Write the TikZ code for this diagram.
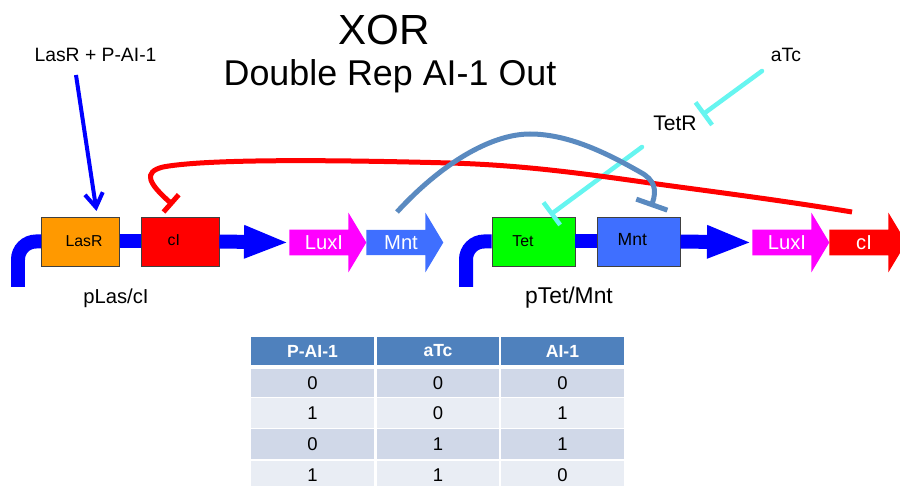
\documentclass[tikz,border=0pt]{standalone}
\usepackage{fontspec}
\setmainfont{Liberation Sans}
\usetikzlibrary{arrows.meta,shapes.arrows}
\definecolor{steel}{HTML}{5A8AC0}
\definecolor{genecyan}{HTML}{66F5F0}
\definecolor{mntblue}{HTML}{3F6FFF}
\definecolor{luxpink}{HTML}{FF00FF}
\definecolor{lasorange}{HTML}{FF9900}
\definecolor{headblue}{HTML}{4F81BD}
\definecolor{rowdark}{HTML}{D0D8E8}
\definecolor{rowlight}{HTML}{E9EDF4}
\tikzset{
    genebox/.style={draw=black!75, line width=0.5pt, minimum width=1.56cm, minimum height=0.98cm, inner sep=0pt},
    boxtext/.style={font=\fontsize{9}{11}\selectfont, inner sep=0pt},
    genearrow/.style={single arrow, anchor=west, draw=none, minimum height=1.54cm, minimum width=1.2cm, inner sep=0pt, single arrow head extend=0.2cm, single arrow tip angle=118, text=white, font=\fontsize{11.5}{13}\selectfont},
    dnaline/.style={blue, line width=0.28cm},
    plaintext/.style={inner sep=0pt, font=\fontsize{11}{13}\selectfont},
    cell/.style={minimum width=2.46cm, minimum height=0.58cm, inner sep=0pt, font=\fontsize{10.5}{12}\selectfont},
    headcell/.style={cell, fill=headblue, text=white, font=\fontsize{10}{12}\selectfont\bfseries},
    repress/.style={line width=0.09cm, line cap=round}
}
\begin{document}
\begin{tikzpicture}[x=0.02cm, y=-0.02cm]
    \clip (0,0) rectangle (900,486);
    \node[font=\fontsize{24}{28}\selectfont, inner sep=0pt] (title) at (384,30) {XOR};
    \node[font=\fontsize{20.4}{24}\selectfont, inner sep=0pt] (subtitle) at (390,76) {Double Rep AI-1 Out};
    \node[plaintext] (signal) at (95.5,55) {LasR + P-AI-1};
    \node[plaintext] (aTc) at (786,55) {aTc};
    \node[plaintext, font=\fontsize{12}{14}\selectfont] (TetR) at (675,123) {TetR};
    \node[plaintext, font=\fontsize{11.5}{13}\selectfont] (pLas) at (116,298) {pLas/cI};
    \node[plaintext, font=\fontsize{13}{15}\selectfont] (pTet) at (569,298) {pTet/Mnt};

    \node[genebox, fill=lasorange, label={[boxtext, xshift=2pt]center:LasR}] (LasR) at (80.5,241.5) {};
    \node[genebox, fill=red, label={[boxtext, xshift=-3.5pt,yshift=1pt]center:cI}] (cIbox) at (180,241.5) {};
    \node[genebox, fill=green, minimum width=1.66cm, label={[boxtext, xshift=-6pt]center:Tet}] (Tet) at (533.5,241.5) {};
    \node[genebox, fill=mntblue, minimum width=1.66cm, label={[boxtext, font=\fontsize{10}{12}\selectfont, xshift=-3.5pt,yshift=1pt]center:Mnt}] (Mntbox) at (638.5,241.5) {};

    \node[genearrow, fill=luxpink] (LuxIa) at (289,242.5) {LuxI};
    \node[genearrow, fill=mntblue] (Mnta) at (366,242.5) {Mnt};
    \node[genearrow, fill=luxpink] (LuxIb) at (752,242.5) {LuxI};
    \node[genearrow, fill=red] (cIa) at (829,242.5) {cI};

    \coordinate (startLas) at (18,287);
    \coordinate (startTet) at (466,287);
    \draw[dnaline, rounded corners=0.36cm] (startLas) |- (LasR.west);
    \draw[dnaline] (LasR.east) -- (cIbox.west);
    \draw[dnaline, -{Triangle[length=0.9cm,width=0.6cm,sep=0pt]}] (cIbox.east) -- (LuxIa.west);
    \draw[dnaline, rounded corners=0.36cm] (startTet) |- (Tet.west);
    \draw[dnaline] (Tet.east) -- (Mntbox.west);
    \draw[dnaline, -{Triangle[length=0.9cm,width=0.6cm,sep=0pt]}] (Mntbox.east) -- (LuxIb.west);

    \coordinate (signalend) at (76,75);
    \coordinate (signaltip) at (96.5,211);
    \draw[blue, line width=0.08cm, -{Straight Barb[length=0.28cm,width=0.36cm]}] (signalend) -- (signaltip);

    \coordinate (aTcend) at (762,71);
    \coordinate (aTcbar) at (702,115);
    \coordinate (TetRend) at (642,147);
    \coordinate (TetRbar) at (550,215);
    \draw[repress, genecyan, -{Bar[width=0.56cm]}] (aTcend) -- (aTcbar);
    \draw[repress, genecyan, -{Bar[width=0.56cm]}] (TetRend) -- (TetRbar);

    \coordinate (redend) at (852,212);
    \coordinate (redbar) at (173,205);
    \draw[repress, red, line width=0.1cm, line cap=butt, -{Bar[width=0.46cm]}] (redend) .. controls (780,200) and (700,190) .. (650,183) .. controls (580,173) and (520,165) .. (450,163) .. controls (300,159) and (200,160) .. (163,167) .. controls (143,172) and (148,183) .. (redbar);

    \coordinate (steelend) at (397,212);
    \coordinate (steelbar) at (651,207);
    \draw[repress, steel, line width=0.1cm, line cap=butt, -{Bar[width=0.66cm]}] (steelend) .. controls (440,165) and (490,134) .. (530,134) .. controls (570,134) and (610,155) .. (640,172) .. controls (655,180) and (657,190) .. (steelbar);

    \node[headcell] (h1) at (312.5,351) {P-AI-1};
    \node[headcell] (h2) at (438,351) {aTc};
    \node[headcell] (h3) at (562.5,351) {AI-1};
    \node[cell, fill=rowdark] (a1) at (312.5,383) {0};
    \node[cell, fill=rowdark] (a2) at (438,383) {0};
    \node[cell, fill=rowdark] (a3) at (562.5,383) {0};
    \node[cell, fill=rowlight, minimum height=0.6cm] (b1) at (312.5,413) {1};
    \node[cell, fill=rowlight, minimum height=0.6cm] (b2) at (438,413) {0};
    \node[cell, fill=rowlight, minimum height=0.6cm] (b3) at (562.5,413) {1};
    \node[cell, fill=rowdark, minimum height=0.6cm] (c1) at (312.5,444) {0};
    \node[cell, fill=rowdark, minimum height=0.6cm] (c2) at (438,444) {1};
    \node[cell, fill=rowdark, minimum height=0.6cm] (c3) at (562.5,444) {1};
    \node[cell, fill=rowlight] (d1) at (312.5,475) {1};
    \node[cell, fill=rowlight] (d2) at (438,475) {1};
    \node[cell, fill=rowlight] (d3) at (562.5,475) {0};
\end{tikzpicture}
\end{document}
